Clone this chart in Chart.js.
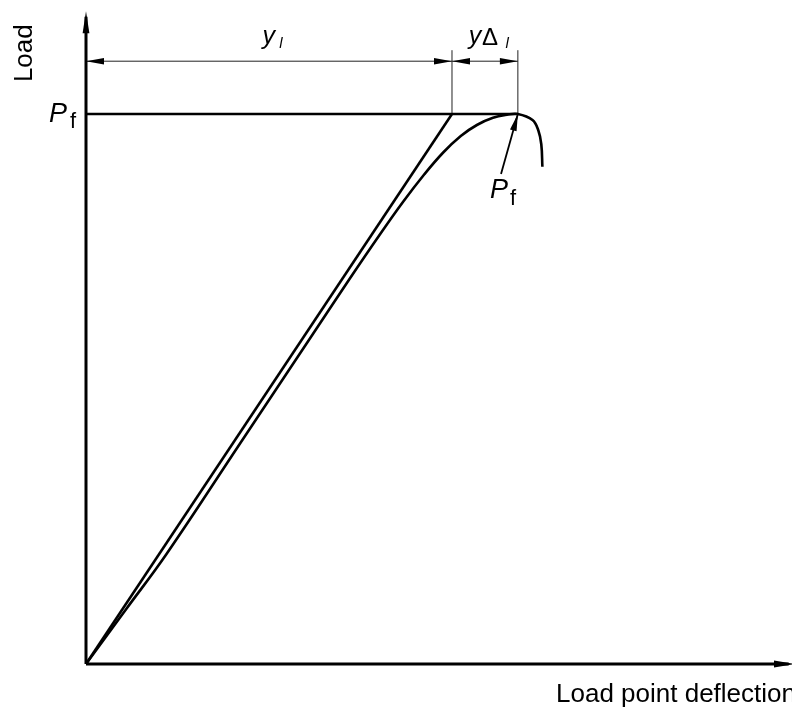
<!DOCTYPE html>
<html>
<head>
<meta charset="utf-8">
<script src="https://cdn.jsdelivr.net/npm/chart.js@4.4.1/dist/chart.umd.min.js"></script>
<style>
html, body { margin: 0; padding: 0; background: #fff; }
</style>
</head>
<body>
<canvas id="chart" width="792" height="707"></canvas>
<script>
// Значения (условные единицы: X - прогиб, Y - нагрузка)
const P_F = 100;        // нагрузка разрушения
const Y_L = 50;         // прогиб по прямой
const Y_PEAK = 59;      // прогиб в точке максимума
const DIM_Y = 109.6;    // уровень размерной линии
const EXT_TOP = 111.6;  // верх выносных линий

// Прямая
const linearDeflection = [0, Y_L];
const linearLoad = [0, P_F];

// Реальная кривая
const curveDeflection = [0, 5.5, 11.0, 21.0, 31.0, 36.0, 40.1, 43.3, 46.2, 48.8, 51.2, 53.4, 55.6, 57.5, 59, 61.0, 61.8, 62.2, 62.35];
const curveLoad = [0, 10, 20, 40, 60, 70, 78, 84, 89, 93, 96, 98, 99.3, 99.85, 100, 98.9, 97.0, 94.5, 90.4];

// Стрелка к подписи Pf
const pfArrowFrom = [56.7, 89.1];

const AXIS_X_END = 97;
const AXIS_Y_END = 118.7;

const toPoints = (xs, ys) => xs.map((v, i) => ({ x: v, y: ys[i] }));

// Рисует закрашенный наконечник стрелки
function arrowHead(ctx, x0, y0, x1, y1, len, half) {
    const a = Math.atan2(y1 - y0, x1 - x0);
    const c = Math.cos(a), s = Math.sin(a);
    ctx.beginPath();
    ctx.moveTo(x1, y1);
    ctx.lineTo(x1 - len * c + half * s, y1 - len * s - half * c);
    ctx.lineTo(x1 - len * c - half * s, y1 - len * s + half * c);
    ctx.closePath();
    ctx.fill();
}

const FONT = "'Liberation Sans', Arial, sans-serif";

const drawingPlugin = {
    id: 'drawing',
    afterDatasetsDraw(chart) {
        const ctx = chart.ctx;
        const x = chart.scales.x, y = chart.scales.y;
        const px = v => x.getPixelForValue(v);
        const py = v => y.getPixelForValue(v);
        ctx.save();
        ctx.fillStyle = '#000';

        // наконечники осей
        arrowHead(ctx, px(0), py(0), px(0), py(AXIS_Y_END), 22, 3.4);
        arrowHead(ctx, px(0), py(0), px(AXIS_X_END), py(0), 22, 3.4);

        // размерные стрелки
        const midL = Y_L / 2, midD = (Y_L + Y_PEAK) / 2;
        arrowHead(ctx, px(midL), py(DIM_Y), px(0), py(DIM_Y), 18, 3.2);
        arrowHead(ctx, px(midL), py(DIM_Y), px(Y_L), py(DIM_Y), 18, 3.2);
        arrowHead(ctx, px(midD), py(DIM_Y), px(Y_L), py(DIM_Y), 18, 3.2);
        arrowHead(ctx, px(midD), py(DIM_Y), px(Y_PEAK), py(DIM_Y), 18, 3.2);

        // стрелка к максимуму
        arrowHead(ctx, px(pfArrowFrom[0]), py(pfArrowFrom[1]), px(Y_PEAK), py(P_F), 17, 3.4);

        // подписи
        ctx.textBaseline = 'alphabetic';
        ctx.textAlign = 'left';

        // Load (вертикально)
        ctx.save();
        ctx.translate(px(0) - 54, py(DIM_Y) - 8);
        ctx.rotate(-Math.PI / 2);
        ctx.textAlign = 'center';
        ctx.font = '26px ' + FONT;
        ctx.fillText('Load', 0, 0);
        ctx.restore();

        // Pf слева
        const pfY = py(P_F);
        ctx.font = 'italic 27px ' + FONT;
        ctx.fillText('P', px(0) - 37, pfY + 8);
        ctx.font = '22px ' + FONT;
        ctx.fillText('f', px(0) - 16, pfY + 14);

        // Pf у стрелки
        const ax = px(pfArrowFrom[0]), ay = py(pfArrowFrom[1]);
        ctx.font = 'italic 27px ' + FONT;
        ctx.fillText('P', ax - 11, ay + 24);
        ctx.font = '22px ' + FONT;
        ctx.fillText('f', ax + 9, ay + 31);

        // y_l
        const dimY = py(DIM_Y);
        ctx.font = 'italic 25px ' + FONT;
        ctx.fillText('y', px(24.1), dimY - 17);
        ctx.font = 'italic 15px ' + FONT;
        ctx.fillText('l', px(26.4), dimY - 13);

        // yΔ_l
        ctx.font = 'italic 25px ' + FONT;
        ctx.fillText('y', px(52.3), dimY - 17);
        ctx.font = '24px ' + FONT;
        ctx.fillText('\u0394', px(54.1), dimY - 16);
        ctx.font = 'italic 15px ' + FONT;
        ctx.fillText('l', px(57.3), dimY - 13);

        // подпись оси X
        ctx.font = '26px ' + FONT;
        ctx.fillText('Load point deflection', 556, py(0) + 38);

        ctx.restore();
    }
};

const thick = { borderColor: '#000', borderWidth: 2.6, pointRadius: 0, showLine: true, clip: false, fill: false };
const thin = { borderColor: '#222', borderWidth: 1, pointRadius: 0, showLine: true, clip: false, fill: false };

new Chart(document.getElementById('chart').getContext('2d'), {
    type: 'scatter',
    data: {
        datasets: [
            { ...thick, label: 'y axis', borderWidth: 3, data: [{ x: 0, y: 0 }, { x: 0, y: AXIS_Y_END - 1 }] },
            { ...thick, label: 'x axis', borderWidth: 3, data: [{ x: 0, y: 0 }, { x: AXIS_X_END - 1, y: 0 }] },
            { ...thick, label: 'Pf level', data: [{ x: 0, y: P_F }, { x: Y_PEAK, y: P_F }] },
            { ...thick, label: 'linear', data: toPoints(linearDeflection, linearLoad) },
            { ...thick, label: 'curve', tension: 0.4, data: toPoints(curveDeflection, curveLoad) },
            { ...thin, label: 'ext 1', data: [{ x: Y_L, y: P_F }, { x: Y_L, y: EXT_TOP }] },
            { ...thin, label: 'ext 2', data: [{ x: Y_PEAK, y: P_F }, { x: Y_PEAK, y: EXT_TOP }] },
            { ...thin, label: 'dimension', data: [{ x: 0, y: DIM_Y }, { x: Y_PEAK, y: DIM_Y }] },
            { ...thin, label: 'pf arrow', borderColor: '#000', borderWidth: 1.8, data: [{ x: pfArrowFrom[0], y: pfArrowFrom[1] }, { x: Y_PEAK, y: P_F }] }
        ]
    },
    options: {
        responsive: false,
        animation: false,
        devicePixelRatio: 1,
        layout: { padding: { left: 86, right: 3.3, top: 4, bottom: 43 } },
        scales: {
            x: { type: 'linear', min: 0, max: 96, display: false },
            y: { type: 'linear', min: 0, max: 120, display: false }
        },
        plugins: { legend: { display: false }, tooltip: { enabled: false } }
    },
    plugins: [drawingPlugin]
});
</script>
</body>
</html>
